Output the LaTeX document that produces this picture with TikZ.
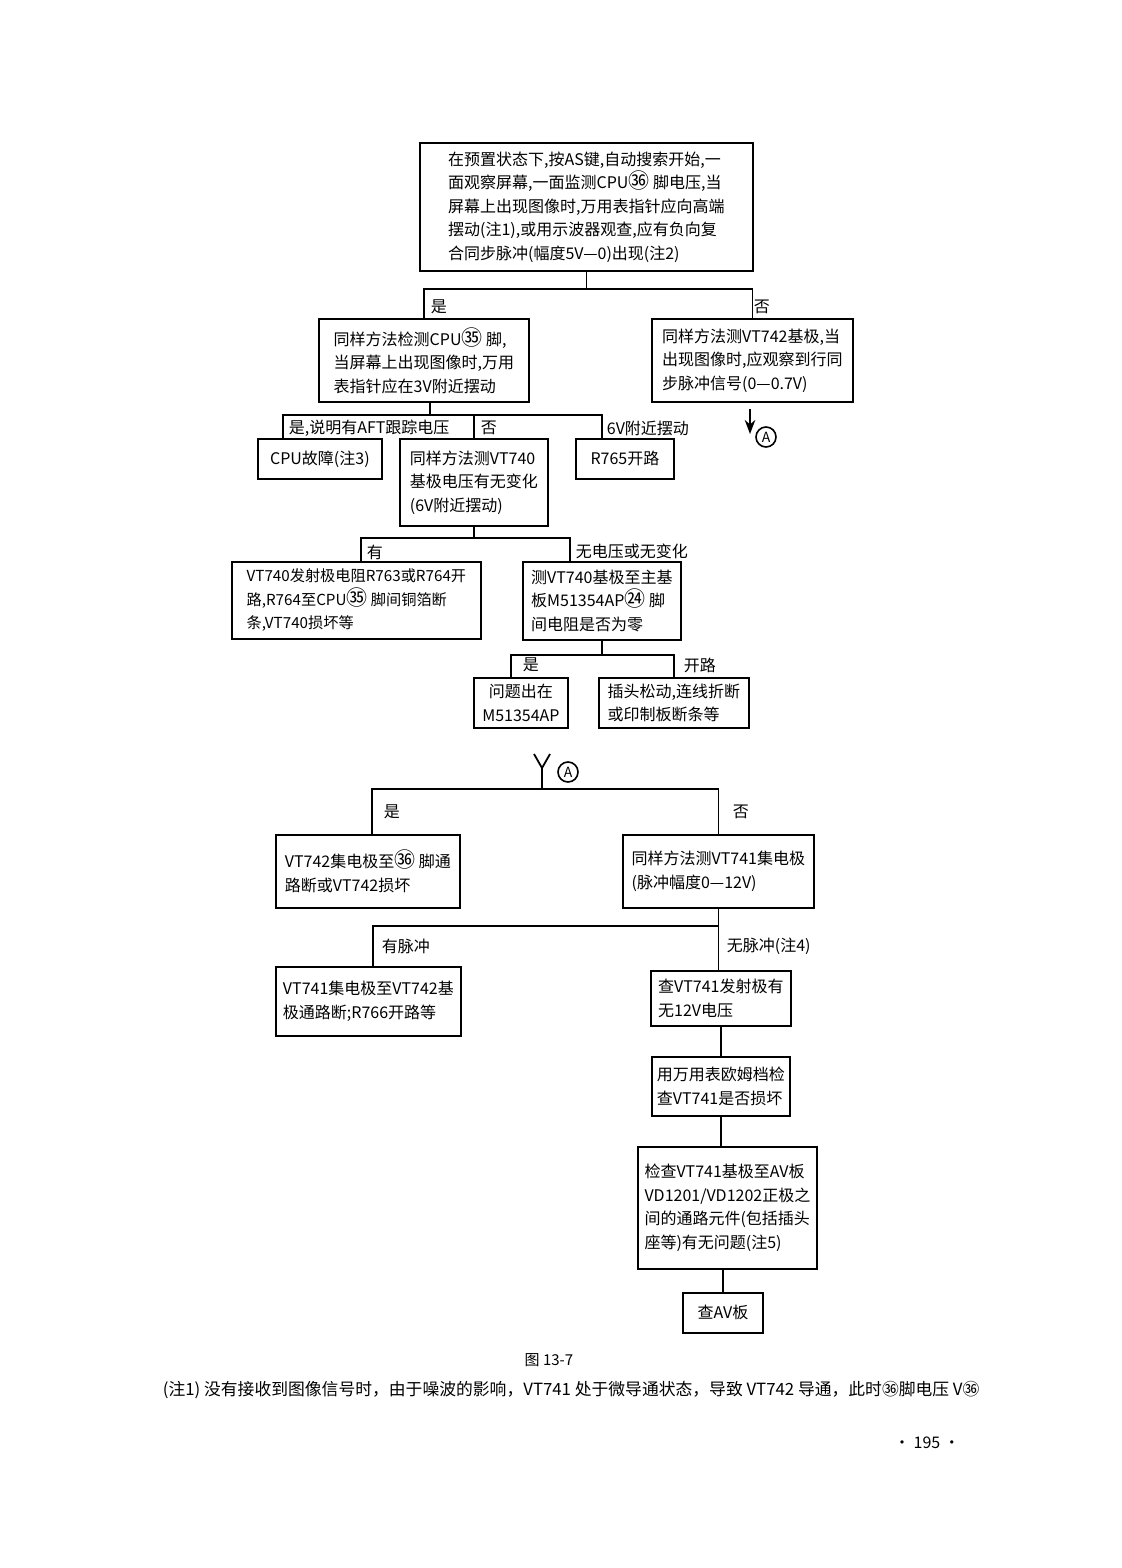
\documentclass[tikz,border=0pt]{standalone}
\usepackage{fontspec}
\setmainfont{Noto Sans CJK SC}
\usetikzlibrary{arrows.meta, positioning}
\newcommand{\cnum}[1]{{\fontsize{10.5pt}{11.75pt}\selectfont #1}}

\begin{document}
\begin{tikzpicture}[
    x=0.5pt, y=-0.5pt, line width=0.9pt, >=Stealth,
    box/.style={rectangle, draw, anchor=north west, align=left, inner sep=0pt, font=\fontsize{8pt}{11.75pt}\selectfont},
    boxsize/.style 2 args={minimum width=#1*0.5pt, minimum height=#2*0.5pt},
    lbl/.style={anchor=west, inner sep=0pt, font=\fontsize{8pt}{10pt}\selectfont},
    conn/.style={circle, draw, line width=0.8pt, inner sep=0.5pt, minimum size=10pt, font=\fontsize{7pt}{8pt}\selectfont}
    ]
    \useasboundingbox (0,0) rectangle (1122,1568);

    % upper chart
    \node[box, boxsize={333}{128}] (start) at (419,142) {在预置状态下,按AS键,自动搜索开始,一\\面观察屏幕,一面监测CPU\cnum{㊱} 脚电压,当\\屏幕上出现图像时,万用表指针应向高端\\摆动(注1),或用示波器观查,应有负向复\\合同步脉冲(幅度5V—0)出现(注2)};
    \node[box, boxsize={210}{83}] (cpuq) at (318,318) {同样方法检测CPU\cnum{㉟} 脚,\\当屏幕上出现图像时,万用\\表指针应在3V附近摆动};
    \node[box, boxsize={201}{83}] (vtq) at (651,318) {同样方法测VT742基极,当\\出现图像时,应观察到行同\\步脉冲信号(0—0.7V)};
    \coordinate (a1) at (750,434);
    \node[conn] (conA1) at (766,437) {A};

    \node[box, boxsize={124}{40}] (cpuf) at (257,438) {CPU故障(注3)};
    \node[box, boxsize={148}{87}] (vt740) at (399,438) {同样方法测VT740\\基极电压有无变化\\(6V附近摆动)};
    \node[box, boxsize={98}{40}] (r765) at (575,438) {R765开路};

    \node[box, boxsize={249}{77}, font=\fontsize{7.6pt}{11.75pt}\selectfont] (emit) at (231,561) {VT740发射极电阻R763或R764开\\路,R764至CPU\cnum{㉟} 脚间铜箔断\\条,VT740损坏等};
    \node[box, boxsize={158}{78}] (base) at (522,561) {测VT740基极至主基\\板M51354AP\cnum{㉔} 脚\\间电阻是否为零};

    \node[box, boxsize={94}{50}, align=center] (m513) at (473,677) {问题出在\\M51354AP};
    \node[box, boxsize={150}{50}] (plug) at (598,677) {插头松动,连线折断\\或印制板断条等};

    \node[lbl] (yes1) at (430,307) {是};
    \node[lbl] (no1) at (753,307) {否};
    \node[lbl] (yes2) at (288,428) {是,说明有AFT跟踪电压};
    \node[lbl] (no2) at (480,428) {否};
    \node[lbl] (swing) at (606,428) {6V附近摆动};
    \node[lbl] (has) at (366,552) {有};
    \node[lbl] (novolt) at (575,551) {无电压或无变化};
    \node[lbl] (yes3) at (522,665) {是};
    \node[lbl] (open) at (683,665) {开路};

    \draw (start.south) -- ++(0,17) coordinate (j1);
    \draw (cpuq.north) |- (j1) -| (vtq.north);
    \draw[->, shorten <=3pt] (a1 |- vtq.south) -- (a1);

    \coordinate (j2) at (430,415);
    \coordinate (d1) at (283,415);
    \coordinate (d3) at (602,415);
    \draw (j2 |- cpuq.south) -- (j2);
    \draw (d1 |- cpuf.north) -- (d1) -- (d3) -- (d3 |- r765.north);
    \draw (j2 -| vt740.north) -- (vt740.north);

    \coordinate (d4) at (361,538);
    \coordinate (d5) at (570,538);
    \draw (vt740.south) -- (vt740.south |- d4);
    \draw (d4 |- emit.north) -- (d4) -- (d5) -- (d5 |- base.north);

    \coordinate (d6) at (511,655);
    \draw (base.south) -- (base.south |- d6);
    \draw (d6 |- m513.north) -- (d6) -| (plug.north);

    % lower chart
    \node[conn] (conA2) at (568,772) {A};
    \node[box, boxsize={184}{73}] (vt742) at (275,834) {VT742集电极至\cnum{㊱} 脚通\\路断或VT742损坏};
    \node[box, boxsize={191}{73}] (vt741) at (622,834) {同样方法测VT741集电极\\(脉冲幅度0—12V)};
    \node[box, boxsize={185}{69}] (pulse) at (275,966) {VT741集电极至VT742基\\极通路断;R766开路等};
    \node[box, boxsize={140}{55}] (emit12) at (650,970) {查VT741发射极有\\无12V电压};
    \node[box, boxsize={138}{59}] (ohm) at (651,1056) {用万用表欧姆档检\\查VT741是否损坏};
    \node[box, boxsize={179}{122}] (avpath) at (637,1146) {检查VT741基极至AV板\\VD1201/VD1202正极之\\间的通路元件(包括插头\\座等)有无问题(注5)};
    \node[box, boxsize={80}{40}] (avb) at (682,1292) {查AV板};

    \node[lbl] (yes4) at (383,812) {是};
    \node[lbl] (no4) at (732,812) {否};
    \node[lbl] (haspulse) at (381,946) {有脉冲};
    \node[lbl] (nopulse) at (726,946) {无脉冲(注4)};

    \coordinate (yfork) at (542,768);
    \coordinate (j5) at (542,789);
    \draw (534,754) -- (yfork) -- (550,754);
    \draw (yfork) -- (j5);
    \coordinate (d7) at (372,789);
    \draw (d7 |- vt742.north) -- (d7) -| (vt741.north);

    \coordinate (d8) at (373,926);
    \draw (vt741.south) -- (vt741.south |- d8) coordinate (j6);
    \draw (d8 |- pulse.north) -- (d8) -- (j6);
    \draw (j6) -- (j6 |- emit12.north);
    \draw (emit12.south) -- (ohm.north);
    \draw (ohm.south) -- (ohm.south |- avpath.north);
    \draw (avb.north |- avpath.south) -- (avb.north);

    % caption and note
    \node[font=\fontsize{7.5pt}{9pt}\selectfont] (cap) at (549,1360) {图 13-7};
    \node[lbl, font=\fontsize{8.4pt}{10pt}\selectfont] (note1) at (162,1390) {(注1) 没有接收到图像信号时，由于噪波的影响，VT741 处于微导通状态，导致 VT742 导通，此时㊱脚电压 V㊱};
    \node[font=\fontsize{8pt}{10pt}\selectfont] (page) at (927,1443) {• 195 •};
\end{tikzpicture}
\end{document}
